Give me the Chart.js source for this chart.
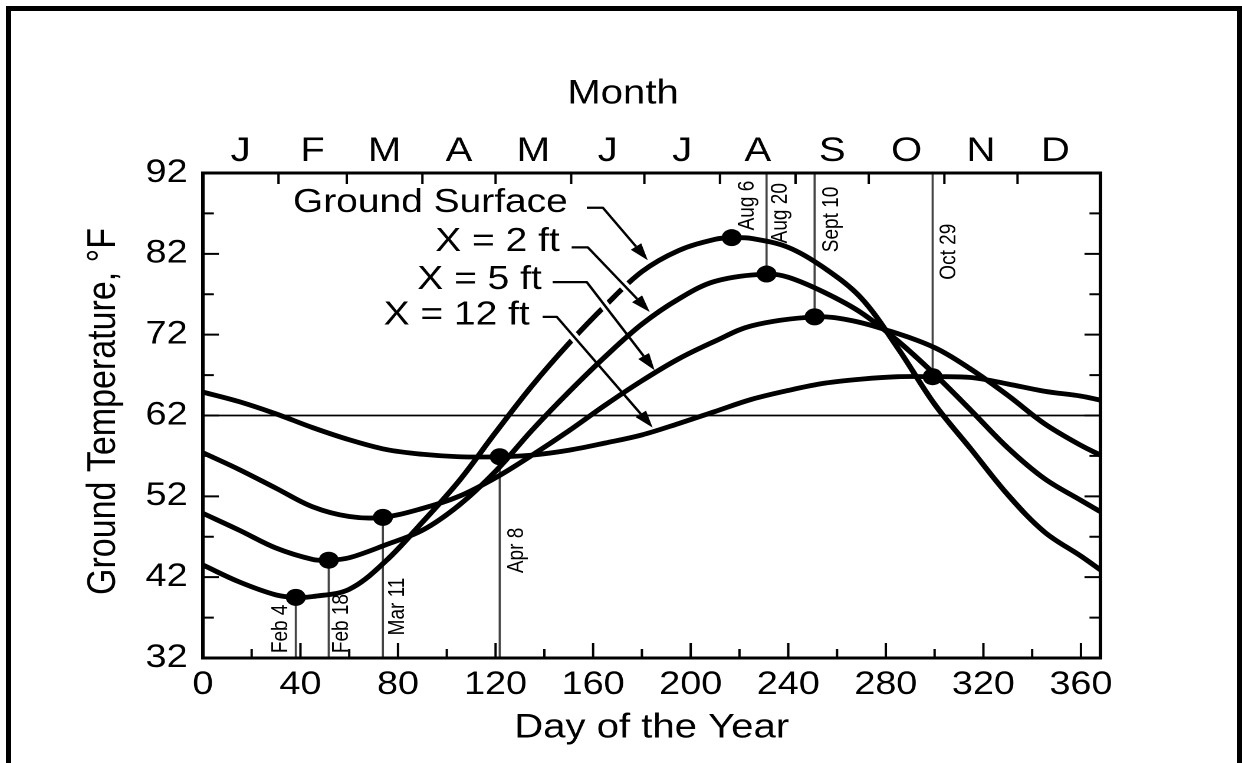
<!DOCTYPE html>
<html>
<head>
<meta charset="utf-8">
<title>Ground Temperature by Day of the Year</title>
<script src="https://cdn.jsdelivr.net/npm/chart.js@4.4.0/dist/chart.umd.min.js"></script>
<style>
  html, body { margin: 0; padding: 0; background: #fff; }
  body { width: 1242px; height: 763px; overflow: hidden; position: relative; }
  /* the scanned figure is a little wider than its type, so the canvas is stretched */
  #wrap { position: absolute; left: 0; top: 0; width: 1053px; height: 763px;
          transform: scaleX(1.17949); transform-origin: 0 0; }
  #frame { position: absolute; left: 6px; top: 6px; width: 1226px; height: 800px;
           border: 5px solid #000; border-bottom: none; pointer-events: none; }
</style>
</head>
<body>
<div id="wrap"><canvas id="groundTempChart"></canvas></div>
<div id="frame"></div>

<script>
// ====================================
// DATA
// ====================================

// Ground surface
const surfaceDays  = [0, 15, 30, 38.1, 45, 60, 75, 90, 105, 120, 135, 150, 165, 180, 195, 210, 216.8, 225, 240, 255, 270, 285, 300, 315, 330, 345, 360, 368];
const surfaceTemps = [43.5, 41.4, 39.8, 39.5, 39.6, 40.5, 44.0, 48.8, 53.9, 59.9, 65.7, 70.9, 75.6, 79.8, 82.4, 83.8, 84.0, 83.9, 82.8, 80.2, 76.5, 70.3, 63.4, 57.8, 52.2, 47.6, 44.6, 42.9];

// X = 2 ft
const ft2Days  = [0, 15, 30, 45, 51.6, 60, 75, 90, 105, 120, 135, 150, 165, 180, 195, 210, 231.1, 240, 255, 270, 285, 300, 315, 330, 345, 360, 368];
const ft2Temps = [49.9, 47.8, 45.6, 44.2, 44.1, 44.4, 46.0, 47.8, 50.9, 55.1, 60.2, 64.9, 69.3, 73.3, 76.4, 78.6, 79.5, 79.1, 77.2, 74.7, 71.2, 67.1, 62.6, 58.0, 54.2, 51.5, 50.1];

// X = 5 ft
const ft5Days  = [0, 15, 30, 45, 60, 73.8, 90, 105, 120, 135, 150, 165, 180, 195, 210, 225, 250.8, 265, 280, 300, 315, 330, 345, 360, 368];
const ft5Temps = [57.4, 55.3, 53.0, 50.7, 49.5, 49.4, 50.5, 52.0, 54.3, 57.1, 60.1, 63.3, 66.3, 69.0, 71.2, 73.1, 74.2, 73.8, 72.6, 70.4, 67.7, 64.5, 61.0, 58.3, 57.1];

// X = 12 ft
const ft12Days  = [0, 15, 30, 45, 60, 75, 90, 105, 121.7, 135, 150, 165, 180, 195, 210, 225, 240, 255, 270, 285, 299.2, 315, 330, 345, 360, 368];
const ft12Temps = [64.9, 63.7, 62.2, 60.5, 59.0, 57.8, 57.2, 56.9, 56.9, 57.1, 57.7, 58.6, 59.6, 61.0, 62.5, 64.0, 65.1, 66.0, 66.5, 66.8, 66.8, 66.7, 65.9, 65.0, 64.4, 63.9];

// min / max dates marked with dots
const markerNames = ['Feb 4', 'Feb 18', 'Mar 11', 'Apr 8', 'Aug 6', 'Aug 20', 'Sept 10', 'Oct 29'];
const markerDays  = [38.1, 51.6, 73.8, 121.7, 216.8, 231.1, 250.8, 299.2];
const markerTemps = [39.5, 44.1, 49.4, 56.9, 84.0, 79.5, 74.2, 66.8];

const meanTemp = 62;

// axes
const dayTicks  = [0, 40, 80, 120, 160, 200, 240, 280, 320, 360];
const tempTicks = [32, 42, 52, 62, 72, 82, 92];
const monthLetters   = ['J', 'F', 'M', 'A', 'M', 'J', 'J', 'A', 'S', 'O', 'N', 'D'];
const monthMidDays   = [15.5, 45, 74.5, 105, 135.5, 166, 196.5, 227.5, 258, 288.5, 319, 349.5];
const monthStartDays = [31, 59, 90, 120, 151, 181, 212, 243, 273, 304, 334];

// ====================================
// LAYOUT / STYLE
// ====================================
const SX = 1242 / 1053;           // horizontal stretch applied by CSS
const FONT = "'Liberation Sans', Arial, Helvetica, sans-serif";
const DAY_MAX = 368;

// where each date label sits (day, temp at the start of the rotated text)
const markerLabelAt = [[32.0, 32.6], [57.0, 32.6], [79.9, 34.8], [128.7, 42.5],
                       [223.4, 84.9], [236.9, 83.3], [257.8, 82.2], [306.1, 78.8]];
const markerLineTo  = ['bottom', 'bottom', 'bottom', 'bottom', null, 'top', 'top', 'top'];

// curve labels with their leader arrows (day, temp)
const callouts = [
  { text: 'Ground Surface', at: [149.6, 88.3], path: [[157.4, 87.7], [164.0, 87.7], [182.4, 81.2]] },
  { text: 'X = 2 ft',       at: [146.3, 83.5], path: [[151.2, 82.8], [157.8, 82.8], [183.2, 74.8]] },
  { text: 'X = 5 ft',       at: [138.9, 78.8], path: [[143.4, 78.5], [157.4, 78.5], [185.2, 67.6]] },
  { text: 'X = 12 ft',      at: [134.0, 74.4], path: [[139.3, 74.2], [145.1, 74.2], [184.4, 60.5]] }
];

const SURFACE_INDEX = 4;

function toPoints(days, temps) {
  return days.map((d, i) => ({ x: d, y: temps[i] }));
}

function drawText(ctx, str, x, y, size, align, rotate) {
  ctx.save();
  ctx.translate(x, y);
  if (rotate) ctx.rotate(-Math.PI / 2);
  ctx.font = size + 'px ' + FONT;
  ctx.fillStyle = '#000';
  ctx.textAlign = align || 'center';
  ctx.textBaseline = 'middle';
  ctx.fillText(str, 0, 0);
  ctx.restore();
}

/**
 * Leader lines with arrow heads; a white halo cuts the surface curve where they cross it
 */
function drawCallouts(chart) {
  const { ctx, scales: { x, y } } = chart;
  callouts.forEach(c => {
    const pts = c.path.map(([d, t]) => [x.getPixelForValue(d), y.getPixelForValue(t)]);
    const n = pts.length;
    const [tx, ty] = pts[n - 1];
    const [qx, qy] = pts[n - 2];
    const len = Math.hypot(tx - qx, ty - qy);
    const ux = (tx - qx) / len, uy = (ty - qy) / len;
    const head = 17, half = 5.5;
    const bx = tx - ux * head, by = ty - uy * head;

    ctx.save();
    ctx.lineJoin = 'round';
    ctx.strokeStyle = '#fff';
    ctx.lineWidth = 8;
    ctx.beginPath();
    ctx.moveTo(pts[0][0] + 4, pts[0][1]);
    for (let i = 1; i < n - 1; i++) ctx.lineTo(pts[i][0], pts[i][1]);
    ctx.lineTo(tx - ux * (head + 6), ty - uy * (head + 6));
    ctx.stroke();

    ctx.strokeStyle = '#000';
    ctx.lineWidth = 2.2;
    ctx.beginPath();
    ctx.moveTo(pts[0][0], pts[0][1]);
    for (let i = 1; i < n - 1; i++) ctx.lineTo(pts[i][0], pts[i][1]);
    ctx.lineTo(bx, by);
    ctx.stroke();

    ctx.fillStyle = '#000';
    ctx.beginPath();
    ctx.moveTo(tx, ty);
    ctx.lineTo(bx - uy * half, by + ux * half);
    ctx.lineTo(bx + uy * half, by - ux * half);
    ctx.closePath();
    ctx.fill();
    ctx.restore();

    const [ax, ay] = [x.getPixelForValue(c.at[0]), y.getPixelForValue(c.at[1])];
    drawText(ctx, c.text, ax, ay, 33, 'right');
  });
}

const figurePlugin = {
  id: 'figure',

  beforeDatasetsDraw(chart) {
    const { ctx, chartArea: a, scales: { x, y } } = chart;
    ctx.save();
    ctx.strokeStyle = '#444';
    ctx.lineWidth = 1.8;
    markerDays.forEach((d, i) => {
      if (!markerLineTo[i]) return;
      const xp = x.getPixelForValue(d);
      ctx.beginPath();
      ctx.moveTo(xp, y.getPixelForValue(markerTemps[i]));
      ctx.lineTo(xp, markerLineTo[i] === 'bottom' ? a.bottom : a.top);
      ctx.stroke();
    });
    ctx.restore();
  },

  afterDatasetDraw(chart, args) {
    if (args.index === SURFACE_INDEX) drawCallouts(chart);
  },

  afterDraw(chart) {
    const { ctx, chartArea: a, scales: { x, y } } = chart;
    ctx.save();

    // plot frame
    ctx.strokeStyle = '#000';
    ctx.lineWidth = 3;
    ctx.strokeRect(a.left, a.top, a.right - a.left, a.bottom - a.top);

    // inner ticks
    ctx.lineWidth = 2;
    ctx.beginPath();
    for (let t = 37; t < 92; t += 5) {
      const yp = y.getPixelForValue(t);
      const l = (t - 32) % 10 === 0 ? 16 / SX : 11 / SX;
      ctx.moveTo(a.left, yp); ctx.lineTo(a.left + l, yp);
      ctx.moveTo(a.right, yp); ctx.lineTo(a.right - l, yp);
    }
    for (let d = 20; d < DAY_MAX; d += 20) {
      const xp = x.getPixelForValue(d);
      const l = d % 40 === 0 ? 15 : 9;
      ctx.moveTo(xp, a.bottom); ctx.lineTo(xp, a.bottom - l);
    }
    monthStartDays.forEach(d => {
      const xp = x.getPixelForValue(d);
      ctx.moveTo(xp, a.top); ctx.lineTo(xp, a.top + 11);
    });
    ctx.stroke();
    ctx.restore();

    // date labels
    markerNames.forEach((name, i) => {
      const [d, t] = markerLabelAt[i];
      drawText(ctx, name, x.getPixelForValue(d), y.getPixelForValue(t), 19, 'left', true);
    });

    // axis titles
    drawText(ctx, 'Month', 623 / SX, 94, 34);
    drawText(ctx, 'Day of the Year', (a.left + a.right) / 2, 728, 34);
    drawText(ctx, 'Ground Temperature, \u00B0F', 104 / SX, (a.top + a.bottom) / 2 - 4, 34, 'center', true);
  }
};

// ====================================
// CHART
// ====================================
const curveStyle = {
  showLine: true,
  borderColor: '#000',
  borderWidth: 4.8,
  pointRadius: 0,
  tension: 0.35,
  fill: false
};

const ctx = document.getElementById('groundTempChart').getContext('2d');

new Chart(ctx, {
  type: 'scatter',
  data: {
    datasets: [
      { label: 'Dates', data: toPoints(markerDays, markerTemps), pointRadius: 8.5,
        pointBackgroundColor: '#000', pointBorderWidth: 0, showLine: false },
      { label: 'X = 12 ft', data: toPoints(ft12Days, ft12Temps), ...curveStyle },
      { label: 'X = 5 ft', data: toPoints(ft5Days, ft5Temps), ...curveStyle },
      { label: 'X = 2 ft', data: toPoints(ft2Days, ft2Temps), ...curveStyle },
      { label: 'Ground Surface', data: toPoints(surfaceDays, surfaceTemps), ...curveStyle },
      { label: 'Mean', data: [{ x: 0, y: meanTemp }, { x: DAY_MAX, y: meanTemp }],
        showLine: true, borderColor: '#000', borderWidth: 1.8, pointRadius: 0 }
    ]
  },
  options: {
    responsive: true,
    maintainAspectRatio: false,
    animation: false,
    devicePixelRatio: 2,
    layout: { padding: { left: 0, right: 120, top: 0, bottom: 0 } },
    plugins: {
      legend: { display: false },
      tooltip: { enabled: false }
    },
    scales: {
      x: {
        type: 'linear',
        position: 'bottom',
        min: 0,
        max: DAY_MAX,
        grid: { display: false, drawTicks: false, tickLength: 0 },
        border: { display: false },
        afterBuildTicks: scale => { scale.ticks = dayTicks.map(v => ({ value: v })); },
        ticks: { color: '#000', font: { family: FONT, size: 32 }, padding: 8, maxRotation: 0, autoSkip: false },
        afterFit: scale => { scale.height = 105; }
      },
      xMonth: {
        type: 'linear',
        axis: 'x',
        position: 'top',
        min: 0,
        max: DAY_MAX,
        grid: { display: false, drawTicks: false, tickLength: 0 },
        border: { display: false },
        afterBuildTicks: scale => { scale.ticks = monthMidDays.map(v => ({ value: v })); },
        ticks: {
          color: '#000', font: { family: FONT, size: 34 }, padding: 1, maxRotation: 0, autoSkip: false,
          callback: (value, index) => monthLetters[index]
        },
        afterFit: scale => { scale.height = 173; }
      },
      y: {
        type: 'linear',
        min: 32,
        max: 92,
        grid: { display: false, drawTicks: false, tickLength: 0 },
        border: { display: false },
        afterBuildTicks: scale => { scale.ticks = tempTicks.map(v => ({ value: v })); },
        ticks: { color: '#000', font: { family: FONT, size: 32 }, padding: 13 },
        afterFit: scale => { scale.width = 172; }
      }
    }
  },
  plugins: [figurePlugin]
});
</script>
</body>
</html>
